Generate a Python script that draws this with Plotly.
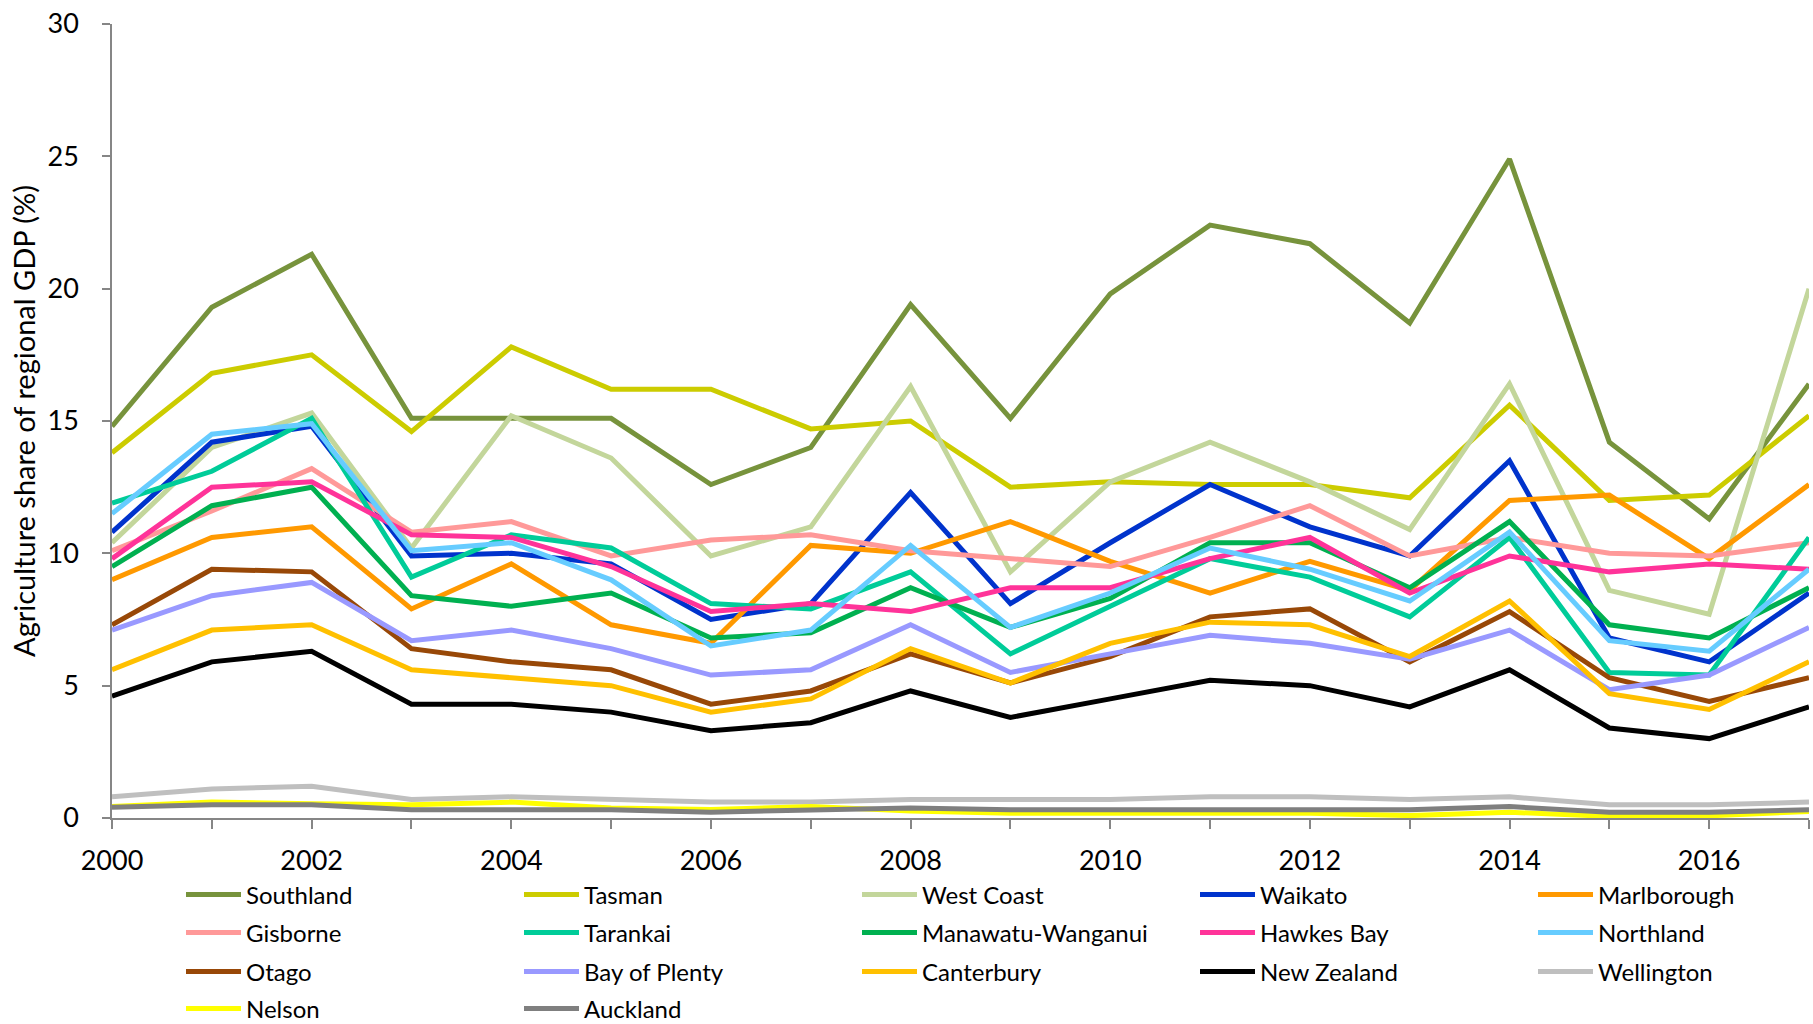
import plotly.graph_objects as go

years = list(range(2000, 2018))

southland = [14.8, 19.3, 21.3, 15.1, 15.1, 15.1, 12.6, 14.0, 19.4, 15.1, 19.8, 22.4, 21.7, 18.7, 24.9, 14.2, 11.3, 16.4]
tasman = [13.8, 16.8, 17.5, 14.6, 17.8, 16.2, 16.2, 14.7, 15.0, 12.5, 12.7, 12.6, 12.6, 12.1, 15.6, 12.0, 12.2, 15.2]
west_coast = [10.4, 14.0, 15.3, 10.2, 15.2, 13.6, 9.9, 11.0, 16.3, 9.3, 12.7, 14.2, 12.7, 10.9, 16.4, 8.6, 7.7, 20.0]
waikato = [10.8, 14.2, 14.8, 9.9, 10.0, 9.6, 7.5, 8.1, 12.3, 8.1, 10.4, 12.6, 11.0, 9.9, 13.5, 6.8, 5.9, 8.5]
marlborough = [9.0, 10.6, 11.0, 7.9, 9.6, 7.3, 6.6, 10.3, 10.0, 11.2, 9.7, 8.5, 9.7, 8.6, 12.0, 12.2, 9.8, 12.6]
gisborne = [10.1, 11.6, 13.2, 10.8, 11.2, 9.9, 10.5, 10.7, 10.1, 9.8, 9.5, 10.6, 11.8, 9.9, 10.6, 10.0, 9.9, 10.4]
taranaki = [11.9, 13.1, 15.1, 9.1, 10.7, 10.2, 8.1, 7.9, 9.3, 6.2, 8.0, 9.8, 9.1, 7.6, 10.6, 5.5, 5.4, 10.6]
manawatu = [9.5, 11.8, 12.5, 8.4, 8.0, 8.5, 6.8, 7.0, 8.7, 7.2, 8.3, 10.4, 10.4, 8.7, 11.2, 7.3, 6.8, 8.7]
hawkes_bay = [9.8, 12.5, 12.7, 10.7, 10.6, 9.5, 7.8, 8.1, 7.8, 8.7, 8.7, 9.8, 10.6, 8.5, 9.9, 9.3, 9.6, 9.4]
northland = [11.5, 14.5, 14.9, 10.1, 10.4, 9.0, 6.5, 7.1, 10.3, 7.2, 8.5, 10.2, 9.4, 8.2, 10.8, 6.7, 6.3, 9.4]
otago = [7.3, 9.4, 9.3, 6.4, 5.9, 5.6, 4.3, 4.8, 6.2, 5.1, 6.1, 7.6, 7.9, 5.9, 7.8, 5.3, 4.4, 5.3]
bay_of_plenty = [7.1, 8.4, 8.9, 6.7, 7.1, 6.4, 5.4, 5.6, 7.3, 5.5, 6.2, 6.9, 6.6, 6.0, 7.1, 4.85, 5.4, 7.2]
canterbury = [5.6, 7.1, 7.3, 5.6, 5.3, 5.0, 4.0, 4.5, 6.4, 5.1, 6.6, 7.4, 7.3, 6.1, 8.2, 4.7, 4.1, 5.9]
new_zealand = [4.6, 5.9, 6.3, 4.3, 4.3, 4.0, 3.3, 3.6, 4.8, 3.8, 4.5, 5.2, 5.0, 4.2, 5.6, 3.4, 3.0, 4.2]
wellington = [0.8, 1.1, 1.2, 0.7, 0.8, 0.7, 0.6, 0.6, 0.7, 0.7, 0.7, 0.8, 0.8, 0.7, 0.8, 0.5, 0.5, 0.6]
nelson = [0.43, 0.6, 0.54, 0.5, 0.6, 0.38, 0.32, 0.43, 0.26, 0.18, 0.18, 0.2, 0.18, 0.09, 0.22, 0.06, 0.08, 0.25]
auckland = [0.41, 0.5, 0.5, 0.31, 0.31, 0.31, 0.22, 0.31, 0.38, 0.31, 0.31, 0.33, 0.33, 0.31, 0.43, 0.22, 0.22, 0.31]

series_names = ["Southland", "Tasman", "West Coast", "Waikato", "Marlborough",
                "Gisborne", "Tarankai", "Manawatu-Wanganui", "Hawkes Bay", "Northland",
                "Otago", "Bay of Plenty", "Canterbury", "New Zealand", "Wellington",
                "Nelson", "Auckland"]
series_values = [southland, tasman, west_coast, waikato, marlborough,
                 gisborne, taranaki, manawatu, hawkes_bay, northland,
                 otago, bay_of_plenty, canterbury, new_zealand, wellington,
                 nelson, auckland]
series_colors = ["#77933C", "#CCCC00", "#C3D69B", "#0033CC", "#FF9900",
                 "#FF9999", "#00CC99", "#00B050", "#FF3399", "#66CCFF",
                 "#984807", "#9999FF", "#FFC000", "#000000", "#BFBFBF",
                 "#FFFF00", "#7F7F7F"]

x_tick_vals = years
x_tick_text = [str(y) if y % 2 == 0 else "" for y in years]
y_title = "Agriculture share of regional GDP (%)"

FONT = "Lato, 'Open Sans', sans-serif"
LEGEND_COLS = 5
legend_ids = ["legend", "legend2", "legend3", "legend4"]

fig = go.Figure()
for i, (name, vals, col) in enumerate(zip(series_names, series_values, series_colors)):
    fig.add_trace(go.Scatter(x=years, y=vals, name=name, mode="lines",
                             line=dict(color=col, width=5),
                             legend=legend_ids[i // LEGEND_COLS]))

row_centers_px = [895, 933, 972, 1009]
legend_layout = {}
for lid, cy in zip(legend_ids, row_centers_px):
    legend_layout[lid] = dict(
        orientation="h",
        xref="container", yref="container",
        x=181 / 1813, y=1 - cy / 1024, xanchor="left", yanchor="middle",
        entrywidth=268, entrywidthmode="pixels",
        font=dict(family=FONT, size=24, color="black"),
        itemwidth=55,
        bgcolor="rgba(0,0,0,0)",
    )

fig.update_layout(
    width=1813, height=1024,
    margin=dict(l=112, r=4, t=24, b=206, autoexpand=False),
    paper_bgcolor="white", plot_bgcolor="white",
    font=dict(family=FONT, color="black"),
    showlegend=True,
    xaxis=dict(
        range=[2000, 2017], tickmode="array", tickvals=x_tick_vals, ticktext=x_tick_text,
        showgrid=False, zeroline=False, showline=True, linecolor="#868686", linewidth=1.5,
        ticks="outside", ticklen=9, tickcolor="#868686", tickwidth=1.5,
        tickfont=dict(family=FONT, size=27, color="black"),
        ticklabelstandoff=9,
    ),
    yaxis=dict(
        range=[0, 30], dtick=5, tick0=0,
        showgrid=False, zeroline=False, showline=True, linecolor="#868686", linewidth=1.5,
        ticks="outside", ticklen=8, tickcolor="#868686", tickwidth=1.5,
        tickfont=dict(family=FONT, size=27, color="black"),
        ticklabelstandoff=18,
        title=dict(text=y_title, font=dict(family=FONT, size=29, color="black"), standoff=3),
    ),
    **legend_layout,
)

fig.write_html("out.html", config={"displayModeBar": False},
               post_script="document.body.style.margin='0';")
